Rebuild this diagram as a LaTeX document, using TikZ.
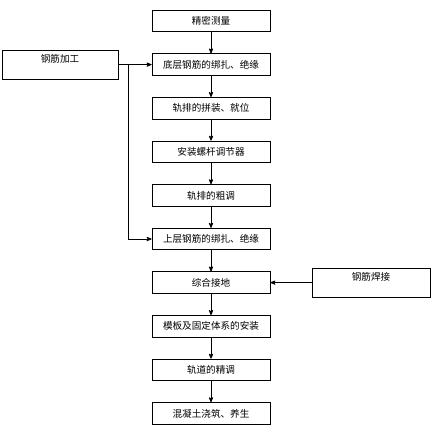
\documentclass[tikz,border=0pt]{standalone}
\usepackage{fontspec}
\setmainfont{Noto Sans CJK SC}
\usetikzlibrary{arrows,positioning}

\begin{document}
\begin{tikzpicture}[->,>=stealth',line width=0.8pt,node distance=43.6pt,font=\fontsize{9.6}{11}\selectfont]
 \tikzstyle{gongxu}=[draw,rectangle,minimum width=118pt,minimum height=21.5pt,inner sep=2pt]
 \tikzstyle{pangxu}=[draw,rectangle,minimum width=116pt,text height=7pt,text depth=12pt,inner ysep=5pt]
 \useasboundingbox (0,0) rectangle (435pt,-431pt);

   \node[gongxu] (cl) at (211pt,-21pt) {精密测量};
   \node[gongxu] (dc) [below of = cl] {底层钢筋的绑扎、绝缘};
   \node[gongxu] (pz) [below of = dc] {轨排的拼装、就位};
   \node[gongxu] (lg) [below of = pz] {安装螺杆调节器};
   \node[gongxu] (ct) [below of = lg] {轨排的粗调};
   \node[gongxu] (sc) [below of = ct] {上层钢筋的绑扎、绝缘};
   \node[gongxu] (jd) [below of = sc] {综合接地};
   \node[gongxu] (mb) [below of = jd] {模板及固定体系的安装};
   \node[gongxu] (jt) [below of = mb] {轨道的精调};
   \node[gongxu] (hn) [below of = jt] {混凝土浇筑、养生};
   \node[pangxu,node distance=151pt] (jg) [left of = dc] {钢筋加工};
   \node[pangxu,minimum width=118pt,node distance=160pt] (hj) [right of = jd] {钢筋焊接};
   \coordinate[right=10pt of jg.east] (fen);

   \path[->]
   (cl) edge (dc)
   (dc) edge (pz)
   (pz) edge (lg)
   (lg) edge (ct)
   (ct) edge (sc)
   (sc) edge (jd)
   (jd) edge (mb)
   (mb) edge (jt)
   (jt) edge (hn)
   (jg) edge (dc)
   (hj) edge (jd);
   \draw (fen) |- (sc);

\end{tikzpicture}
\end{document}
